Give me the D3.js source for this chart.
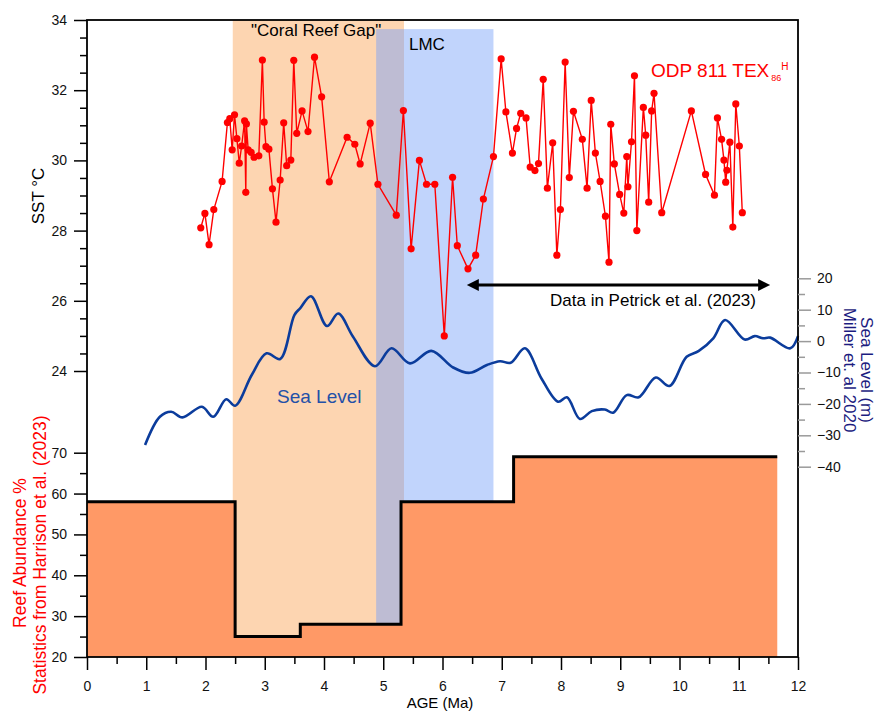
<!DOCTYPE html>
<html>
<head>
<meta charset="utf-8">
<script src="https://cdn.jsdelivr.net/npm/d3@7"></script>
<style>
  body { margin: 0; background: #fff; }
  text { font-family: Arial, "Liberation Sans", sans-serif; }
</style>
</head>
<body>
<div id="chart"></div>
<script>
// Chart data
var sstAge = [1.92, 1.99, 2.06, 2.14, 2.28, 2.37, 2.41, 2.45, 2.49, 2.53, 2.57, 2.61, 2.66, 2.68, 2.69, 2.72, 2.77, 2.82, 2.90, 2.96,
  2.99, 3.02, 3.07, 3.13, 3.19, 3.26, 3.32, 3.37, 3.44, 3.49, 3.54, 3.63, 3.73, 3.84, 3.96, 4.09, 4.39, 4.52, 4.61, 4.78,
  4.91, 5.22, 5.34, 5.47, 5.61, 5.73, 5.87, 6.03, 6.17, 6.25, 6.43, 6.56, 6.69, 6.86, 6.99, 7.07, 7.18, 7.25, 7.32, 7.41,
  7.48, 7.56, 7.62, 7.70, 7.77, 7.86, 7.93, 7.99, 8.07, 8.14, 8.21, 8.36, 8.44, 8.51, 8.58, 8.66, 8.75, 8.81, 8.84, 8.90,
  8.99, 9.06, 9.11, 9.13, 9.19, 9.24, 9.28, 9.39, 9.43, 9.48, 9.53, 9.57, 9.70, 10.20, 10.44, 10.59, 10.64, 10.71, 10.75, 10.78,
  10.80, 10.85, 10.90, 10.95, 11.01, 11.06];
var sstValue = [28.08, 28.49, 27.6, 28.6, 29.4, 31.08, 31.19, 30.3, 31.3, 30.62, 29.92, 30.41, 31.13, 29.09, 31.04, 30.3, 30.23, 30.09, 30.13, 32.86,
  31.09, 30.39, 30.32, 29.19, 28.24, 29.44, 31.07, 29.85, 30.01, 32.85, 30.77, 31.41, 30.82, 32.94, 31.81, 29.39, 30.66, 30.46, 29.9, 31.06,
  29.32, 28.44, 31.42, 27.48, 30.0, 29.32, 29.32, 25.0, 29.52, 27.57, 26.91, 27.3, 28.9, 30.11, 32.89, 31.38, 30.21, 30.91, 31.34, 31.21,
  29.81, 29.71, 29.91, 32.31, 29.21, 30.5, 27.3, 28.6, 32.8, 29.51, 31.4, 30.6, 29.21, 31.71, 30.21, 29.4, 28.41, 27.1, 31.03, 29.9,
  29.03, 28.5, 30.11, 29.25, 30.53, 32.41, 28.0, 31.51, 30.72, 28.81, 31.41, 31.91, 28.51, 31.41, 29.6, 29.01, 31.21, 30.6, 30.01, 29.38,
  29.72, 30.52, 28.1, 31.61, 30.41, 28.51];

var seaAge = [0.98, 1.23, 1.42, 1.61, 1.94, 2.13, 2.35, 2.50, 2.78, 3.03, 3.26, 3.50, 3.60, 3.78, 4.05, 4.24, 4.49, 4.86, 5.14, 5.45,
  5.81, 6.18, 6.46, 6.75, 6.97, 7.15, 7.39, 7.67, 7.95, 8.10, 8.32, 8.52, 8.74, 8.88, 9.11, 9.31, 9.60, 9.83, 10.12, 10.32,
  10.57, 10.77, 11.10, 11.27, 11.41, 11.53, 11.87, 12.0];
var seaLevel = [-33.1, -24.1, -22.5, -24.3, -20.9, -24.1, -18.5, -20.6, -10.8, -3.9, -5.7, 8.3, 10.5, 14.3, 4.8, 8.8, 1.4, -8.0, -2.3, -7.1,
  -3.1, -8.4, -10.1, -7.6, -6.4, -6.9, -2.3, -11.9, -19.3, -17.9, -24.8, -22.3, -21.8, -22.8, -17.2, -17.9, -11.6, -14.3, -5.0, -3.2,
  0.9, 6.7, 0.5, 1.6, 0.9, 1.1, -2.3, 1.6];

var reefAge = [0, 2.5, 3.6, 5.3, 7.2, 11.65];
var reefAbundance = [58, 25, 28, 58, 69, 69];

var coralGap = [2.46, 5.35];
var lmc = [4.88, 6.86];
var petrickRange = [6.41, 11.53];

var ageTicks = d3.range(0, 13, 1);
var sstTicks = [24, 26, 28, 30, 32, 34];
var seaTicks = [20, 10, 0, -10, -20, -30, -40];
var reefTicks = [20, 30, 40, 50, 60, 70];

// Set up chart
var svgWidth = 877;
var svgHeight = 711;

var margin = { top: 20, right: 79, bottom: 54, left: 87 };
var width = svgWidth - margin.left - margin.right;
var height = svgHeight - margin.top - margin.bottom;

var svg = d3.select("#chart")
  .append("svg")
  .attr("width", svgWidth)
  .attr("height", svgHeight);

// Scales
var xScale = d3.scaleLinear().domain([0, 12]).range([margin.left, margin.left + width]);
var ySST = d3.scaleLinear().domain([24, 34]).range([371, margin.top]);
var ySea = d3.scaleLinear().domain([-40, 20]).range([466.7, 278.3]);
var yReef = d3.scaleLinear().domain([20, 70]).range([margin.top + height, 452.7]);

var bottomY = margin.top + height;
var rightX = margin.left + width;

// Shaded intervals
svg.append("rect")
  .attr("x", xScale(coralGap[0]))
  .attr("y", margin.top)
  .attr("width", xScale(coralGap[1]) - xScale(coralGap[0]))
  .attr("height", height)
  .attr("fill", "#fdd5b1");

svg.append("rect")
  .attr("x", xScale(coralGap[1]))
  .attr("y", ySST(33.74))
  .attr("width", xScale(lmc[1]) - xScale(coralGap[1]))
  .attr("height", bottomY - ySST(33.74))
  .attr("fill", "#c1d4fc");

svg.append("rect")
  .attr("x", xScale(lmc[0]))
  .attr("y", ySST(33.74))
  .attr("width", xScale(coralGap[1]) - xScale(lmc[0]))
  .attr("height", bottomY - ySST(33.74))
  .attr("fill", "#bebcd3");

// Reef abundance steps
var reefData = reefAge.map((a, i) => ({ age: a, value: reefAbundance[i] }));

var reefArea = d3.area()
  .x(d => xScale(d.age))
  .y0(yReef(20))
  .y1(d => yReef(d.value))
  .curve(d3.curveStepAfter);

svg.append("path")
  .datum(reefData)
  .attr("d", reefArea)
  .attr("fill", "#ff9966");

var reefLine = d3.line()
  .x(d => xScale(d.age))
  .y(d => yReef(d.value))
  .curve(d3.curveStepAfter);

svg.append("path")
  .datum(reefData)
  .attr("d", reefLine)
  .attr("fill", "none")
  .attr("stroke", "#000")
  .attr("stroke-width", 3);

// Sea level curve
var seaData = seaAge.map((a, i) => ({ age: a, value: seaLevel[i] }));

svg.append("path")
  .datum(seaData)
  .attr("d", d3.line()
    .x(d => xScale(d.age))
    .y(d => ySea(d.value))
    .curve(d3.curveCatmullRom.alpha(0.5)))
  .attr("fill", "none")
  .attr("stroke", "#0b3c9c")
  .attr("stroke-width", 2.6);

// SST line + points
var sstData = sstAge.map((a, i) => ({ age: a, value: sstValue[i] }));

svg.append("path")
  .datum(sstData)
  .attr("d", d3.line()
    .x(d => xScale(d.age))
    .y(d => ySST(d.value)))
  .attr("fill", "none")
  .attr("stroke", "#ff0000")
  .attr("stroke-width", 1.4);

svg.selectAll(".sst")
  .data(sstData)
  .enter()
  .append("circle")
  .attr("class", "sst")
  .attr("cx", d => xScale(d.age))
  .attr("cy", d => ySST(d.value))
  .attr("r", 3.6)
  .attr("fill", "#ff0000");

// Frame
svg.append("rect")
  .attr("x", margin.left)
  .attr("y", margin.top)
  .attr("width", width)
  .attr("height", height)
  .attr("fill", "none")
  .attr("stroke", "#000")
  .attr("stroke-width", 1.8);

// Axes
function styleAxis(g, color) {
  g.select(".domain").remove();
  g.selectAll(".tick line").attr("stroke", color || "#000").attr("stroke-width", 1.5);
  g.selectAll(".tick text").attr("font-size", 14).attr("fill", "#111");
}

// bottom
svg.append("g")
  .attr("transform", `translate(0, ${bottomY})`)
  .call(d3.axisBottom(xScale).tickValues(d3.range(0.5, 12, 1)).tickSize(7).tickFormat(""))
  .call(g => styleAxis(g));

svg.append("g")
  .attr("transform", `translate(0, ${bottomY})`)
  .call(d3.axisBottom(xScale).tickValues(ageTicks).tickSize(13).tickPadding(11).tickFormat(d3.format("d")))
  .call(g => styleAxis(g));

// left SST
svg.append("g")
  .attr("transform", `translate(${margin.left}, 0)`)
  .call(d3.axisLeft(ySST).tickValues(d3.range(24.5, 34, 0.5).filter(v => v % 2 !== 0)).tickSize(7).tickFormat(""))
  .call(g => styleAxis(g));

svg.append("g")
  .attr("transform", `translate(${margin.left}, 0)`)
  .call(d3.axisLeft(ySST).tickValues(sstTicks).tickSize(13).tickPadding(7))
  .call(g => styleAxis(g));

// left reef
svg.append("g")
  .attr("transform", `translate(${margin.left}, 0)`)
  .call(d3.axisLeft(yReef).tickValues([25, 35, 45, 55, 65]).tickSize(7).tickFormat(""))
  .call(g => styleAxis(g));

svg.append("g")
  .attr("transform", `translate(${margin.left}, 0)`)
  .call(d3.axisLeft(yReef).tickValues(reefTicks).tickSize(13).tickPadding(7))
  .call(g => styleAxis(g));

// right sea level
svg.append("g")
  .attr("transform", `translate(${rightX}, 0)`)
  .call(d3.axisRight(ySea).tickValues([15, 5, -5, -15, -25, -35]).tickSize(7).tickFormat(""))
  .call(g => styleAxis(g, "#9a9a9a"));

svg.append("g")
  .attr("transform", `translate(${rightX}, 0)`)
  .call(d3.axisRight(ySea).tickValues(seaTicks).tickSize(13).tickPadding(6))
  .call(g => styleAxis(g, "#9a9a9a"));

// Axis labels
svg.append("text")
  .attr("x", 440)
  .attr("y", 708)
  .attr("text-anchor", "middle")
  .attr("font-size", 15)
  .text("AGE (Ma)");

svg.append("text")
  .attr("transform", "translate(44, 196) rotate(-90)")
  .attr("text-anchor", "middle")
  .attr("font-size", 17)
  .text("SST °C");

svg.append("text")
  .attr("transform", "translate(26, 553) rotate(-90)")
  .attr("text-anchor", "middle")
  .attr("font-size", 17.5)
  .attr("fill", "#ff0000")
  .text("Reef Abundance %");

svg.append("text")
  .attr("transform", "translate(46, 555) rotate(-90)")
  .attr("text-anchor", "middle")
  .attr("font-size", 17.5)
  .attr("fill", "#ff0000")
  .text("Statistics from Harrison et al. (2023)");

svg.append("text")
  .attr("transform", "translate(861, 370) rotate(90)")
  .attr("text-anchor", "middle")
  .attr("font-size", 17)
  .attr("fill", "#1c1c80")
  .text("Sea Level (m)");

svg.append("text")
  .attr("transform", "translate(844, 370) rotate(90)")
  .attr("text-anchor", "middle")
  .attr("font-size", 17)
  .attr("fill", "#1c1c80")
  .text("Miller et. al 2020");

// Annotations
svg.append("text")
  .attr("x", 251)
  .attr("y", 36)
  .attr("font-size", 17)
  .text("\"Coral Reef Gap\"");

svg.append("text")
  .attr("x", 409)
  .attr("y", 50)
  .attr("font-size", 17)
  .text("LMC");

svg.append("text")
  .attr("x", 277)
  .attr("y", 403)
  .attr("font-size", 19)
  .attr("fill", "#2450a8")
  .text("Sea Level");

var odp = svg.append("text")
  .attr("x", 651)
  .attr("y", 77)
  .attr("font-size", 19)
  .attr("fill", "#ff0000");
odp.append("tspan").text("ODP 811 TEX");
odp.append("tspan").attr("font-size", 9).attr("dx", 2).attr("dy", 4).text("86");
odp.append("tspan").attr("font-size", 10).attr("dy", -11).text("H");

// Petrick arrow
var arrowY = ySST(26.45);
var x0 = xScale(petrickRange[0]);
var x1 = xScale(petrickRange[1]);

svg.append("line")
  .attr("x1", x0 + 8)
  .attr("x2", x1 - 8)
  .attr("y1", arrowY)
  .attr("y2", arrowY)
  .attr("stroke", "#000")
  .attr("stroke-width", 3);

svg.append("path")
  .attr("d", `M${x0},${arrowY} L${x0 + 12},${arrowY - 6} L${x0 + 12},${arrowY + 6} Z`)
  .attr("fill", "#000");

svg.append("path")
  .attr("d", `M${x1},${arrowY} L${x1 - 12},${arrowY - 6} L${x1 - 12},${arrowY + 6} Z`)
  .attr("fill", "#000");

svg.append("text")
  .attr("x", 550)
  .attr("y", 306)
  .attr("font-size", 17)
  .text("Data in Petrick et al. (2023)");
</script>
</body>
</html>
